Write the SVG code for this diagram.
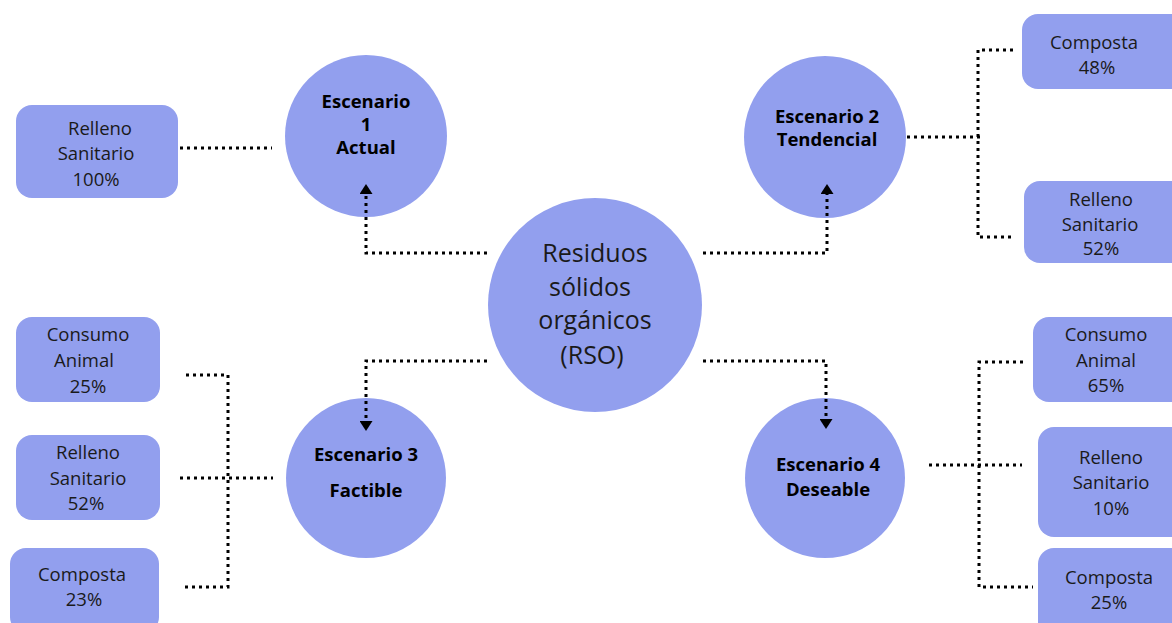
<svg xmlns="http://www.w3.org/2000/svg" width="1172" height="623" viewBox="0 0 1172 623">
<style>
.n{fill:#929FEE}
.t{font-family:"Open Sans","Liberation Sans",sans-serif;font-size:18.5px;fill:#1a1a1a;text-anchor:middle}
.b{font-family:"Open Sans","Liberation Sans",sans-serif;font-size:18.5px;font-weight:700;fill:#000;text-anchor:middle}
.c{font-family:"Open Sans","Liberation Sans",sans-serif;font-size:25px;fill:#1a1a1a;text-anchor:middle}
.l{fill:none;stroke:#000;stroke-width:3;stroke-dasharray:3 4}
</style>
<defs>
<marker id="ah" markerUnits="userSpaceOnUse" markerWidth="11" markerHeight="13" viewBox="0 0 11 13" refX="2" refY="6.5" orient="auto">
<path d="M0,0 L10,6.5 L0,13 z" fill="#000"/>
</marker>
</defs>
<rect width="1172" height="623" fill="#fff"/>
<g id="center">
<circle class="n" cx="595" cy="305" r="107"/>
<text class="c" x="595" y="262">Residuos</text>
<text class="c" x="590" y="296">sólidos</text>
<text class="c" x="595" y="329">orgánicos</text>
<text class="c" x="592" y="364">(RSO)</text>
</g>
<g id="esc1">
<circle class="n" cx="366" cy="136" r="81"/>
<text class="b" x="366" y="108">Escenario</text>
<text class="b" x="366" y="131">1</text>
<text class="b" x="366" y="154">Actual</text>
</g>
<g id="esc2">
<circle class="n" cx="825" cy="137" r="81"/>
<text class="b" x="827" y="123">Escenario 2</text>
<text class="b" x="827" y="146">Tendencial</text>
</g>
<g id="esc3">
<circle class="n" cx="366" cy="478" r="80"/>
<text class="b" x="366" y="461">Escenario 3</text>
<text class="b" x="366" y="497">Factible</text>
</g>
<g id="esc4">
<circle class="n" cx="825" cy="478" r="80"/>
<text class="b" x="828" y="471">Escenario 4</text>
<text class="b" x="828" y="496">Deseable</text>
</g>
<g id="rs100">
<rect class="n" x="16" y="105" width="162" height="93" rx="16"/>
<text class="t" x="100" y="135">Relleno</text>
<text class="t" x="96" y="160">Sanitario</text>
<text class="t" x="96" y="186">100%</text>
</g>
<g id="comp48">
<rect class="n" x="1022" y="14" width="165" height="75" rx="16"/>
<text class="t" x="1094" y="49">Composta</text>
<text class="t" x="1097" y="74">48%</text>
</g>
<g id="rs52r">
<rect class="n" x="1024" y="181" width="165" height="82" rx="16"/>
<text class="t" x="1101" y="206">Relleno</text>
<text class="t" x="1100" y="231">Sanitario</text>
<text class="t" x="1101" y="255">52%</text>
</g>
<g id="ca25">
<rect class="n" x="16" y="317" width="144" height="85" rx="16"/>
<text class="t" x="88" y="341">Consumo</text>
<text class="t" x="84" y="367">Animal</text>
<text class="t" x="88" y="393">25%</text>
</g>
<g id="rs52l">
<rect class="n" x="16" y="435" width="144" height="85" rx="16"/>
<text class="t" x="88" y="459">Relleno</text>
<text class="t" x="88" y="485">Sanitario</text>
<text class="t" x="86" y="510">52%</text>
</g>
<g id="comp23">
<rect class="n" x="10" y="548" width="149" height="85" rx="16"/>
<text class="t" x="82" y="581">Composta</text>
<text class="t" x="84" y="606">23%</text>
</g>
<g id="ca65">
<rect class="n" x="1033" y="317" width="160" height="85" rx="16"/>
<text class="t" x="1106" y="341">Consumo</text>
<text class="t" x="1106" y="367">Animal</text>
<text class="t" x="1106" y="392">65%</text>
</g>
<g id="rs10">
<rect class="n" x="1038" y="427" width="160" height="110" rx="16"/>
<text class="t" x="1111" y="464">Relleno</text>
<text class="t" x="1111" y="489">Sanitario</text>
<text class="t" x="1111" y="515">10%</text>
</g>
<g id="comp25">
<rect class="n" x="1038" y="548" width="160" height="90" rx="16"/>
<text class="t" x="1109" y="584">Composta</text>
<text class="t" x="1109" y="609">25%</text>
</g>
<g id="connectors">
<path class="l" d="M180,148 H272"/>
<path class="l" d="M487,253 H366 V192" marker-end="url(#ah)"/>
<path class="l" d="M703,253 H827 V192" marker-end="url(#ah)"/>
<path class="l" d="M487,361 H366 V423" marker-end="url(#ah)"/>
<path class="l" d="M703,361 H826 V421" marker-end="url(#ah)"/>
<path class="l" d="M907,137 H980"/>
<path class="l" d="M1013,50 H978 V237 H1013"/>
<path class="l" d="M180,478 H273"/>
<path class="l" d="M186,375 H228 V587 H183"/>
<path class="l" d="M929,465 H1022"/>
<path class="l" d="M1023,362 H979 V587 H1033"/>
</g>
</svg>
